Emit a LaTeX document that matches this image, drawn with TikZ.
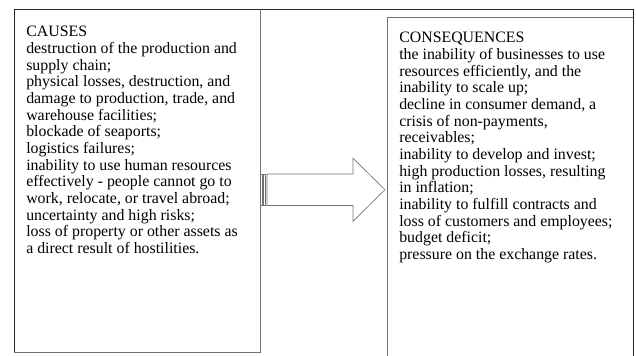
\documentclass[tikz,border=0pt]{standalone}
\usepackage{fontspec}
\setmainfont{Liberation Serif}
\usetikzlibrary{positioning}

\tikzset{
  listtext/.style={align=left, inner sep=0pt, font=\fontsize{11.9}{12.5}\selectfont},
  frame/.style={line width=0.6pt, draw=black!85},
  thinframe/.style={line width=0.5pt, draw=black!55}
}

\begin{document}
\begin{tikzpicture}[x=0.75pt,y=0.75pt]
  \useasboundingbox (0,0) rectangle (636,355);
  % table frame
  \draw[frame] (14,3) -- (14,346) -- (633,346) -- (633,-5);
  \draw[thinframe] (14,3) -- (260,3) -- (260,346);
  % right box
  \draw[thinframe] (387,-5) -- (387,338) -- (633,338);

  \node[listtext, anchor=north west] (causes) at (26,329) {CAUSES\\
    destruction of the production and\\
    supply chain;\\
    physical losses, destruction, and\\
    damage to production, trade, and\\
    warehouse facilities;\\
    blockade of seaports;\\
    logistics failures;\\
    inability to use human resources\\
    effectively - people cannot go to\\
    work, relocate, or travel abroad;\\
    uncertainty and high risks;\\
    loss of property or other assets as\\
    a direct result of hostilities.};

  \node[listtext, anchor=north west] (consequences) at (399,323) {CONSEQUENCES\\
    the inability of businesses to use\\
    resources efficiently, and the\\
    inability to scale up;\\
    decline in consumer demand, a\\
    crisis of non-payments,\\
    receivables;\\
    inability to develop and invest;\\
    high production losses, resulting\\
    in inflation;\\
    inability to fulfill contracts and\\
    loss of customers and employees;\\
    budget deficit;\\
    pressure on the exchange rates.};

  % striped arrow
  \coordinate (arrowbase) at (260,165.25);
  \coordinate (arrowtip) at (385,165.25);
  \draw[thinframe] ([shift={(0.5,-15.75)}]arrowbase) rectangle ([shift={(2,15.75)}]arrowbase);
  \draw[thinframe] ([shift={(3.5,-15.75)}]arrowbase) rectangle ([shift={(5.5,15.75)}]arrowbase);
  \draw[thinframe] ([shift={(7,-15.75)}]arrowbase) -- ([shift={(7,15.75)}]arrowbase)
    -- ([shift={(-32,15.75)}]arrowtip) -- ([shift={(-32,31.5)}]arrowtip)
    -- (arrowtip) -- ([shift={(-32,-31.5)}]arrowtip)
    -- ([shift={(-32,-15.75)}]arrowtip) -- cycle;
\end{tikzpicture}
\end{document}
